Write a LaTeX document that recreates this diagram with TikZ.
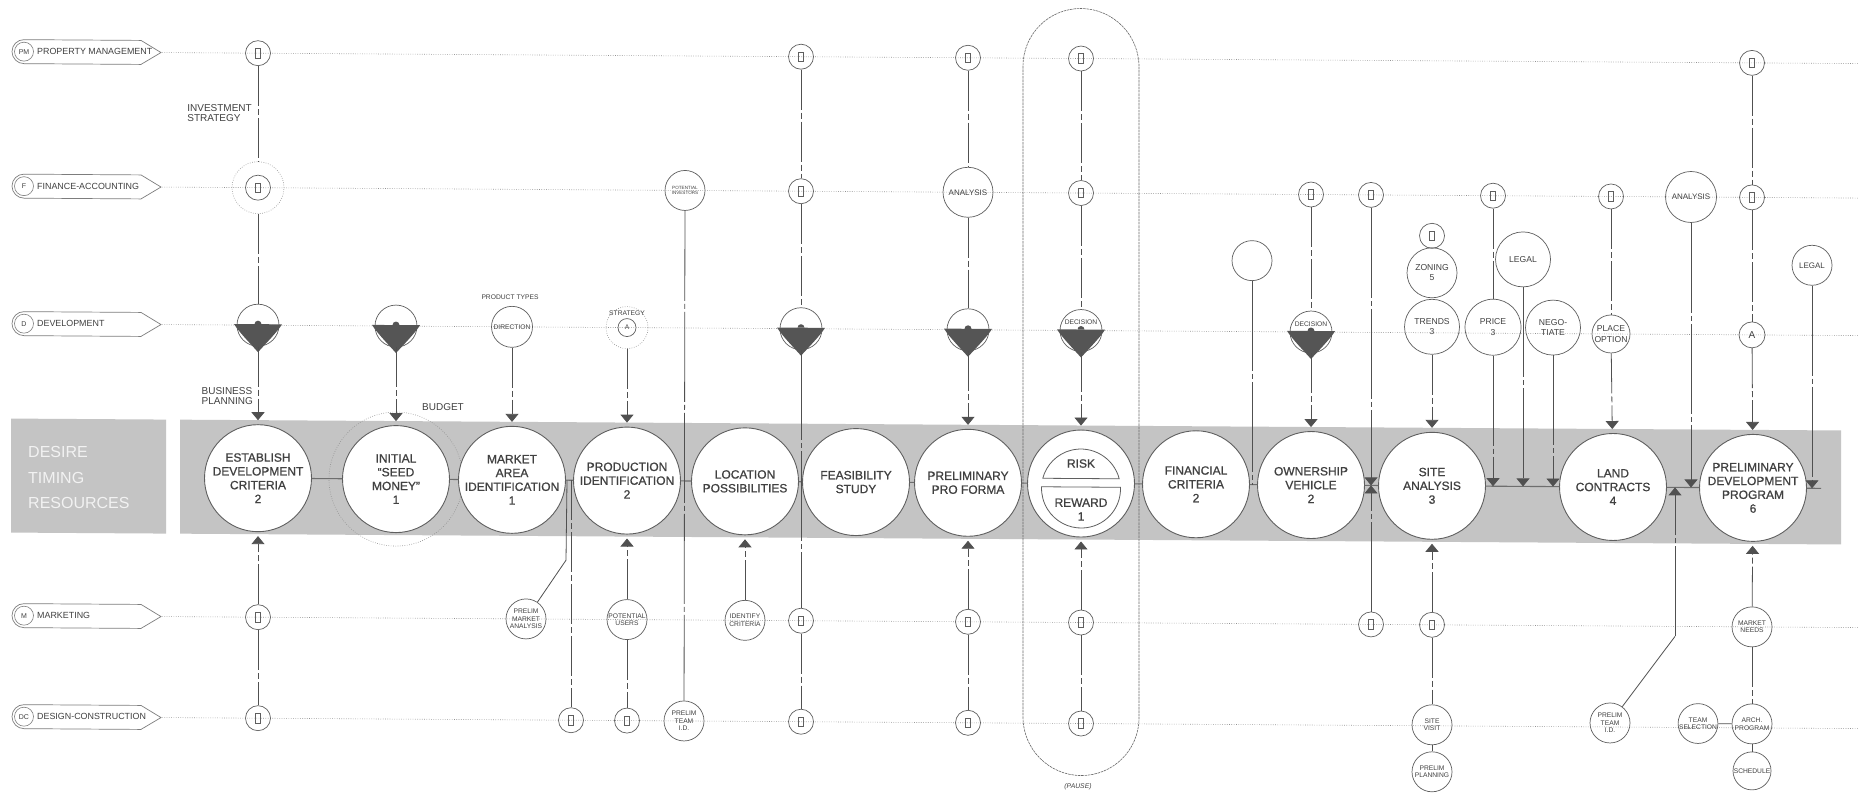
\documentclass[tikz,border=0pt]{standalone}
\usepackage{fontspec}
\setmainfont{Liberation Sans}
\newfontfamily\heavysans{Liberation Sans}[FakeBold=0.9]
\usetikzlibrary{arrows.meta}

\definecolor{ink}{RGB}{80,80,80}
\definecolor{edge}{RGB}{95,95,95}
\definecolor{connc}{RGB}{110,110,110}
\definecolor{bandc}{RGB}{196,196,196}
\definecolor{lanec}{RGB}{145,145,145}
\definecolor{tagc}{RGB}{125,125,125}
\definecolor{txt}{RGB}{65,65,65}
\definecolor{boxtxt}{RGB}{242,242,242}
\definecolor{decink}{RGB}{85,85,85}
\definecolor{stadc}{RGB}{105,105,105}

\newcommand\fmain{\fontsize{12}{13.8}\heavysans\selectfont}
\newcommand\flane{\fontsize{8.9}{10}\selectfont}
\newcommand\fbadge{\fontsize{7}{8}\selectfont}
\newcommand\fnote{\fontsize{10}{10.8}\selectfont}
\newcommand\fmid{\fontsize{8.6}{10.4}\selectfont}
\newcommand\fana{\fontsize{8}{9}\selectfont}
\newcommand\fsmall{\fontsize{6.7}{7.6}\selectfont}
\newcommand\ftiny{\fontsize{4.6}{5.4}\selectfont}
\newcommand\fside{\fontsize{16}{25.7}\selectfont}
\newcommand\fbigA{\fontsize{10}{11}\selectfont}
\newcommand\fpause{\fontsize{6.8}{8}\selectfont\itshape}

\tikzset{
  lane/.style={draw=lanec, line width=0.6pt, dash pattern=on 0.7pt off 1.6pt},
  ring/.style={circle, draw=lanec, line width=0.6pt, dash pattern=on 0.7pt off 1.6pt, inner sep=0pt},
  tagline/.style={draw=tagc, line width=0.7pt, fill=white},
  badge/.style={circle, draw=tagc, line width=0.6pt, minimum size=19pt, inner sep=0pt, font=\fbadge, text=txt},
  mainc/.style={circle, draw=edge, line width=0.9pt, fill=white, minimum size=107pt, inner sep=0pt, align=center, font=\fmain, text=txt},
  sub/.style={circle, draw=edge, line width=0.7pt, inner sep=0pt, align=center, text=txt},
  boxc/.style={sub, minimum size=25pt},
  glyph/.style={draw=edge, line width=0.6pt, minimum width=5.4pt, minimum height=9.5pt, inner sep=0pt},
  decc/.style={sub, minimum size=42pt},
  dl/.style={draw=ink, line width=0.8pt, dash pattern=on 40pt off 3pt on 6pt off 3pt},
  ll/.style={draw=ink, line width=0.8pt, dash pattern=on 90pt off 3pt on 5pt off 3pt},
  sl/.style={draw=ink, line width=0.8pt},
  conn/.style={draw=connc, line width=1.1pt},
  arr/.style={-{Triangle[width=13pt,length=8pt]}},
  toc/.style={shorten >=4pt},
  note/.style={font=\fnote, text=txt, align=left, inner sep=0pt},
  tiny/.style={font=\fsmall, text=txt, inner sep=0pt},
  stad/.style={draw=stadc, line width=0.6pt, dash pattern=on 2.5pt off 0.8pt},
}

% small circle holding a box glyph
\newcommand\bx[3]{\node[boxc] (#1) at (#2,#3) {}; \node[glyph] at (#2,#3) {};}
% decision symbol: circle with a dark wedge below the lane
\newcommand\decis[3]{%
  \node[decc] (#1) at (#2,#3) {};
  \fill[decink] ({#2-24},{#3-1}) -- ({#2+24},{#3-1}) .. controls ({#2+19},{#3+7}) and ({#2+8},{#3+18}) .. (#2,{#3+27})
     .. controls ({#2-8},{#3+18}) and ({#2-19},{#3+7}) .. cycle;
  \fill[decink] ({#2-3.5},{#3-1}) arc[start angle=180, end angle=360, radius=3.5] -- cycle;}
% lane tag with badge and dotted lane line
\newcommand\lanetag[4]{%
  \draw[tagline] (24,{#2-12}) -- (141,{#2-12}) -- (161,#2) -- (141,{#2+12}) -- (24,{#2+12})
     arc[start angle=90, end angle=270, radius=12] -- cycle;
  \node[badge] (#1) at (24,#2) {#3};
  \node[anchor=west, font=\flane, text=txt, inner sep=0pt] at (37,#2) {#4};
  \coordinate (#1s) at (162,#2);
  \coordinate (#1e) at (1865,#2);
  \draw[lane] (#1s) -- (#1e);}

\begin{document}
\begin{tikzpicture}[x=1pt, y=-1pt]
\useasboundingbox (0,0) rectangle (1859,794);
\fill[white] (0,0) rectangle (1859,794);
\begin{scope}[yshift=6.5pt, yslant=-0.0065]

% side box and main band
\fill[bandc] (11,425) rectangle (166,539);
\node[anchor=west, align=left, font=\fside, text=boxtxt, inner sep=0pt] (dtr) at (28,484) {DESIRE\\TIMING\\RESOURCES};
\fill[bandc] (180,425) rectangle (1841,539);

% lanes
\lanetag{tPM}{58}{PM}{PROPERTY MANAGEMENT}
\lanetag{tF}{192.5}{F}{FINANCE-ACCOUNTING}
\lanetag{tD}{330}{D}{DEVELOPMENT}
\lanetag{tM}{622}{M}{MARKETING}
\lanetag{tDC}{723}{DC}{DESIGN-CONSTRUCTION}

% pause loop
\draw[stad, rounded corners=58pt] (1023,8) rectangle (1139,775);
\node[font=\fpause, text=txt] (pause) at (1078,786) {(PAUSE)};

% dotted rings
\node[ring, minimum size=134pt] (e2r) at (396,483) {};
\node[ring, minimum size=52pt] (f1r) at (258,192.5) {};
\node[ring, minimum size=42pt] (dA1r) at (627,330) {};

% main sequence
\node[mainc] (e1) at (258,483) {ESTABLISH\\DEVELOPMENT\\CRITERIA\\2};
\node[mainc] (e2) at (396,483) {INITIAL\\“SEED\\MONEY”\\1};
\node[mainc] (e3) at (512,483) {MARKET\\AREA\\IDENTIFICATION\\1};
\node[mainc] (e4) at (627,483) {PRODUCTION\\IDENTIFICATION\\2};
\node[mainc] (e5) at (745,483) {LOCATION\\POSSIBILITIES};
\node[mainc] (e6) at (856,483) {FEASIBILITY\\STUDY};
\node[mainc] (e7) at (968,483) {PRELIMINARY\\PRO FORMA};
\node[mainc] (e8) at (1081,483) {};
\node[mainc] (e9) at (1196,483) {FINANCIAL\\CRITERIA\\2};
\node[mainc] (e10) at (1311,483) {OWNERSHIP\\VEHICLE\\2};
\node[mainc] (e11) at (1432,483) {SITE\\ANALYSIS\\3};
\node[mainc] (e12) at (1613,483) {LAND\\CONTRACTS\\4};
\node[mainc] (e13) at (1753,483) {PRELIMINARY\\DEVELOPMENT\\PROGRAM\\6};

% risk / reward halves
\draw[edge, line width=0.8pt] (1119.21,478) arc[start angle=-14.67, end angle=-165.33, radius=39.5] -- cycle;
\draw[edge, line width=0.8pt] (1120.47,486.5) arc[start angle=-2.18, end angle=182.18, radius=39.5] -- cycle;
\node[font=\fmain, text=txt] (tRisk) at (1081,463) {RISK};
\node[font=\fmain, text=txt, align=center] (tRew) at (1081,509) {REWARD\\1};

% property management lane
\bx{pm1}{258}{58} \bx{pm2}{801}{58} \bx{pm3}{968}{58} \bx{pm4}{1081}{58} \bx{pm5}{1752}{58}

% finance lane
\bx{f1}{258}{192.5}
\node[sub, minimum size=40pt, font=\ftiny] (fInv) at (685,192.5) {POTENTIAL\\INVESTORS};
\bx{f2}{801}{192.5}
\node[sub, minimum size=50pt, font=\fana] (fAn1) at (968,192.5) {ANALYSIS};
\bx{f3}{1081}{192.5} \bx{f4}{1311}{192.5} \bx{f5}{1371}{192.5} \bx{f6}{1493}{192.5} \bx{f7}{1611}{192.5}
\node[sub, minimum size=51pt, font=\fana] (fAn2) at (1691,192.5) {ANALYSIS};
\bx{f8}{1752}{192.5}

% development lane
\decis{d1}{258}{330}
\decis{d2}{396}{330}
\node[sub, minimum size=41pt, font=\fsmall] (dDir) at (512,330) {DIRECTION};
\node[tiny] (lPT) at (510,300) {PRODUCT TYPES};
\node[sub, minimum size=18pt, font=\fsmall] (dA1) at (627,330) {A};
\node[tiny] (lStr) at (627,316) {STRATEGY};
\decis{d3}{801}{330}
\decis{d4}{968}{330}
\decis{d5}{1081}{330}
\node[tiny] (lDec1) at (1081,322) {DECISION};
\decis{d6}{1311}{330}
\node[tiny] (lDec2) at (1311,322) {DECISION};
\node[sub, minimum size=40pt] (emp) at (1252,259) {};
\bx{zb}{1432}{233}
\node[sub, minimum size=50pt, font=\fmid] (zon) at (1432,270) {ZONING\\5};
\node[sub, minimum size=55pt, font=\fmid] (tre) at (1432,324) {TRENDS\\3};
\node[sub, minimum size=56pt, font=\fmid] (pri) at (1493,324) {PRICE\\3};
\node[sub, minimum size=55pt, font=\fmid] (leg1) at (1523,256) {LEGAL};
\node[sub, minimum size=55pt, font=\fmid] (neg) at (1553,324) {NEGO-\\TIATE};
\node[sub, minimum size=38pt, font=\fmid] (plo) at (1611,330) {PLACE\\OPTION};
\node[sub, minimum size=26pt, font=\fbigA] (dA2) at (1752,330) {A};
\node[sub, minimum size=40pt, font=\fana] (leg2) at (1812,260) {LEGAL};

% marketing lane
\bx{m1}{258}{622}
\node[sub, minimum size=40pt, font=\fsmall] (mPMA) at (526,622) {PRELIM\\MARKET\\ANALYSIS};
\node[sub, minimum size=40pt, font=\fsmall] (mPU) at (627,622) {POTENTIAL\\USERS};
\node[sub, minimum size=40pt, font=\fsmall] (mIC) at (745,622) {IDENTIFY\\CRITERIA};
\bx{m2}{801}{622} \bx{m3}{968}{622} \bx{m4}{1081}{622} \bx{m5}{1371}{622} \bx{m6}{1432}{622}
\node[sub, minimum size=40pt, font=\fsmall] (mMN) at (1752,622) {MARKET\\NEEDS};

% design-construction lane
\bx{c1}{258}{723} \bx{c2}{571}{723} \bx{c3}{627}{723}
\node[sub, minimum size=40pt, font=\fsmall] (cPT1) at (684,723) {PRELIM\\TEAM\\I.D.};
\bx{c4}{801}{723} \bx{c5}{968}{723} \bx{c6}{1081}{723}
\node[sub, minimum size=40pt, font=\fsmall] (cSV) at (1432,722) {SITE\\VISIT};
\node[sub, minimum size=40pt, font=\fsmall] (cPP) at (1432,769) {PRELIM\\PLANNING};
\node[sub, minimum size=40pt, font=\fsmall] (cPT2) at (1610,719) {PRELIM\\TEAM\\I.D.};
\node[sub, minimum size=37pt, font=\fsmall] (cTS) at (1698,719) {TEAM\\SELECTION};
\node[sub, minimum size=40pt, font=\fsmall] (cAP) at (1752,719) {ARCH.\\PROGRAM};
\node[sub, minimum size=38pt, font=\fsmall] (cSch) at (1752,766) {SCHEDULE};

% side notes
\node[note, anchor=east] (lIS) at (252,118) {INVESTMENT\\STRATEGY};
\node[note, anchor=east] (lBP) at (253,401) {BUSINESS\\PLANNING};
\node[note] (lBud) at (443,411) {BUDGET};

% junction points on the sequence line
\coordinate (j567) at (567,483);
\coordinate (j571) at (571,483);
\coordinate (b567) at (566,563);
\coordinate (j1252) at (1252,483);
\coordinate (j1371) at (1371,483);
\coordinate (j1493) at (1493,483);
\coordinate (j1523) at (1523,483);
\coordinate (j1553) at (1553,483);
\coordinate (j1675) at (1675,483);
\coordinate (b1675) at (1675,632);
\coordinate (j1691) at (1691,483);
\coordinate (j1812) at (1812,483);
\coordinate (pdpR) at (1821,483);

% sequence connectors
\foreach \a/\b in {e1/e2,e2/e3,e3/e4,e4/e5,e5/e6,e6/e7,e7/e8,e8/e9,e9/e10,e10/e11,e11/e12,e12/e13}
  \draw[conn] (\a) -- (\b);
\draw[conn] (e13) -- (pdpR);

% column 1
\draw[dl] (pm1) -- (f1r);
\draw[dl] (f1r) -- (d1);
\draw[dl, arr, toc] (d1) -- (e1);
\draw[dl, arr, toc] (m1) -- (e1);
\draw[dl] (m1) -- (c1);
% initial seed money
\draw[dl, arr, toc] (d2) -- (e2);
% market area
\draw[dl, arr, toc] (dDir) -- (e3);
\draw[sl] (j567) -- (b567) -- (mPMA);
\draw[dl] (j571) -- (c2);
% production
\draw[dl, arr, toc] (dA1r) -- (e4);
\draw[dl, arr, toc] (mPU) -- (e4);
\draw[dl] (mPU) -- (c3);
\draw[ll] (fInv) -- (cPT1);
% location
\draw[dl, arr, toc] (mIC) -- (e5);
\draw[dl] (pm2) -- (f2);
\draw[dl] (f2) -- (d3);
\draw[ll] (d3) -- (m2);
\draw[dl] (m2) -- (c4);
% pro forma
\draw[dl] (pm3) -- (fAn1);
\draw[dl] (fAn1) -- (d4);
\draw[dl, arr, toc] (d4) -- (e7);
\draw[dl, arr, toc] (m3) -- (e7);
\draw[dl] (m3) -- (c5);
% risk / reward
\draw[dl] (pm4) -- (f3);
\draw[dl] (f3) -- (d5);
\draw[dl, arr, toc] (d5) -- (e8);
\draw[dl, arr, toc] (m4) -- (e8);
\draw[dl] (m4) -- (c6);
% financial / ownership
\draw[ll] (emp) -- (j1252);
\draw[dl] (f4) -- (d6);
\draw[dl, arr, toc] (d6) -- (e10);
\draw[ll, arr] (f5) -- (j1371);
\draw[ll, arr] (m5) -- (j1371);
% site analysis
\draw[dl, arr, toc] (tre) -- (e11);
\draw[dl, arr, toc] (m6) -- (e11);
\draw[dl] (m6) -- (cSV);
\draw[sl] (cSV) -- (cPP);
\draw[dl] (f6) -- (pri);
\draw[ll, arr] (pri) -- (j1493);
\draw[ll, arr] (leg1) -- (j1523);
\draw[ll, arr] (neg) -- (j1553);
% land contracts
\draw[dl] (f7) -- (plo);
\draw[dl, arr, toc] (plo) -- (e12);
\draw[ll, arr] (fAn2) -- (j1691);
\draw[sl] (cPT2) -- (b1675);
\draw[ll, arr] (b1675) -- (j1675);
% preliminary development program
\draw[dl] (pm5) -- (f8);
\draw[dl] (f8) -- (dA2);
\draw[dl, arr, toc] (dA2) -- (e13);
\draw[dl, arr, toc] (mMN) -- (e13);
\draw[dl] (mMN) -- (cAP);
\draw[sl] (cTS) -- (cAP);
\draw[sl] (cAP) -- (cSch);
\draw[ll, arr] (leg2) -- (j1812);

\end{scope}
\end{tikzpicture}
\end{document}
